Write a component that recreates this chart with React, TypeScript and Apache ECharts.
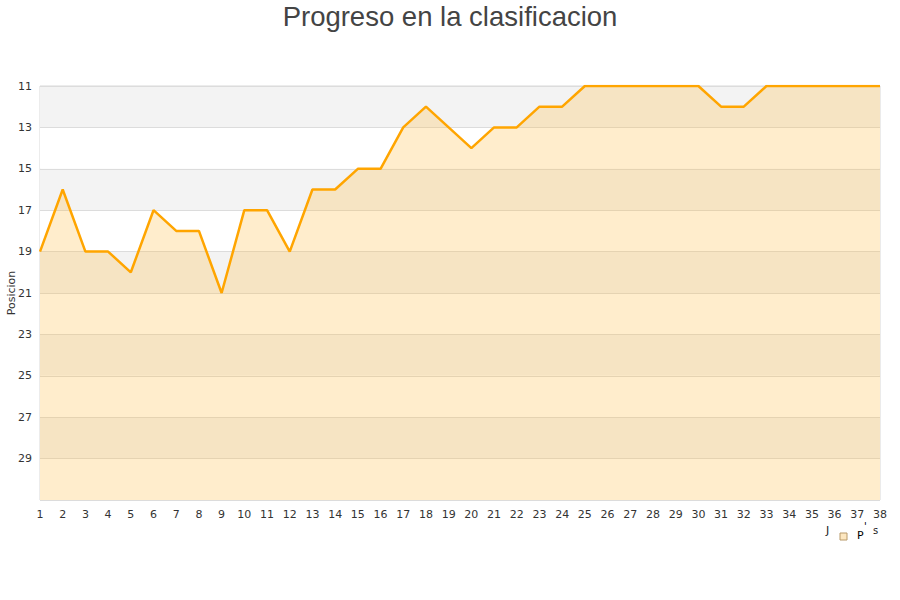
import React, { useEffect, useRef } from "react";
import * as echarts from "echarts";

const jornadas = Array.from({ length: 38 }, (_, i) => String(i + 1));
const posiciones = [
  19, 16, 19, 19, 20, 17, 18, 18, 21, 17,
  17, 19, 16, 16, 15, 15, 13, 12, 13, 14,
  13, 13, 12, 12, 11, 11, 11, 11, 11, 11,
  12, 12, 11, 11, 11, 11, 11, 11,
];
const titleText = "Progreso en la clasificacion";
const yAxisName = "Posicion";

export default function App() {
  const ref = useRef<HTMLDivElement>(null);
  useEffect(() => {
    document.body.style.margin = "0";
    const chart = echarts.init(ref.current!, null, { renderer: "svg" });
    const labelFont = "DejaVu Sans, Verdana, sans-serif";
    chart.setOption({
      animation: false,
      backgroundColor: "#ffffff",
      title: {
        text: titleText,
        left: "center",
        top: -3,
        textStyle: {
          fontFamily: "Liberation Sans, Arial, sans-serif",
          fontSize: 27.5,
          fontWeight: "normal",
          color: "#444444",
        },
      },
      grid: {
        left: 40,
        right: 20,
        top: 86,
        bottom: 100,
        containLabel: false,
        outerBoundsMode: "none",
        show: true,
        borderColor: "#d8d8d8",
        borderWidth: 1,
        backgroundColor: "transparent",
      },
      xAxis: {
        type: "category",
        data: jornadas,
        boundaryGap: false,
        axisLine: { show: false },
        axisTick: { show: false },
        splitLine: { show: false },
        axisLabel: {
          color: "#333333",
          fontSize: 11,
          fontFamily: labelFont,
          margin: 9,
          interval: 0,
        },
      },
      yAxis: {
        type: "value",
        inverse: true,
        min: 11,
        max: 31,
        interval: 2,
        axisLine: { show: false },
        axisTick: { show: false },
        axisLabel: {
          color: "#333333",
          fontSize: 11,
          fontFamily: labelFont,
          margin: 8,
          formatter: (v: number) => (v === 31 ? "" : String(v)),
        },
        splitLine: { show: true, lineStyle: { color: "#dcdcdc", width: 1 } },
        splitArea: { show: true, areaStyle: { color: ["#f3f3f3", "#ffffff"] } },
      },
      series: [
        {
          type: "line",
          data: posiciones,
          symbol: "none",
          clip: true,
          lineStyle: { color: "#ffa500", width: 2.5 },
          itemStyle: { color: "#ffa500" },
          areaStyle: { color: "rgba(255,183,51,0.25)", opacity: 1, origin: "end" },
        },
      ],
      graphic: [
        {
          type: "text",
          x: 11,
          y: 293,
          rotation: Math.PI / 2,
          style: {
            text: yAxisName,
            fontSize: 11,
            fill: "#333333",
            fontFamily: labelFont,
            align: "center",
            verticalAlign: "middle",
          },
        },
        { type: "text", left: 826, top: 525, style: { text: "J", fontSize: 11, fill: "#222", fontFamily: labelFont } },
        { type: "rect", shape: { x: 840, y: 533, width: 7, height: 7 }, style: { fill: "#fde7c0", stroke: "#b89a6a", lineWidth: 1 } },
        { type: "text", left: 857, top: 530, style: { text: "P", fontSize: 11, fill: "#000", fontFamily: labelFont } },
        { type: "text", left: 864, top: 521, style: { text: "'", fontSize: 10, fill: "#000", fontFamily: labelFont } },
        { type: "text", left: 873, top: 525, style: { text: "s", fontSize: 10, fill: "#222", fontFamily: labelFont } },
      ],
    });
    return () => chart.dispose();
  }, []);
  return <div ref={ref} style={{ width: 900, height: 600 }} />;
}
